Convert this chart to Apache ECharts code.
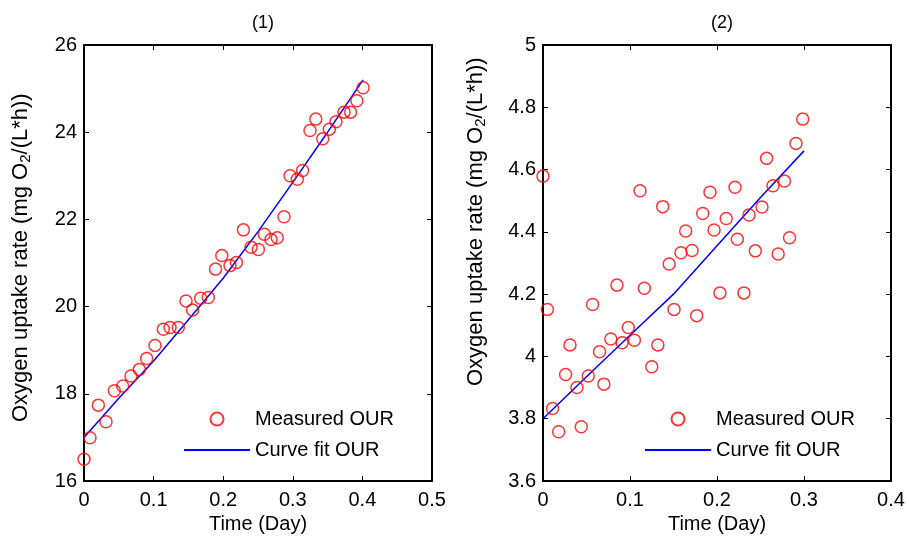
<!DOCTYPE html>
<html><head><meta charset="utf-8">
<script src="https://cdn.jsdelivr.net/npm/echarts@6/dist/echarts.min.js"></script>
<style>html,body{margin:0;padding:0;background:#fff}#c{width:909px;height:541px}</style>
</head><body><div id="c"></div>
<script>
// Panel (1)
const leftX = [0,0.0086,0.0206,0.0316,0.0436,0.0556,0.0675,0.0795,0.090,0.102,0.114,0.1236,0.1355,0.1466,0.156,0.1676,0.1786,0.189,0.198,0.2098,0.219,0.229,0.240,0.2505,0.259,0.2687,0.2777,0.2874,0.296,0.3065,0.314,0.3247,0.333,0.343,0.3525,0.362,0.3736,0.383,0.392,0.401];
const leftY = [16.50,16.99,17.74,17.36,18.07,18.18,18.41,18.56,18.81,19.11,19.48,19.52,19.52,20.13,19.92,20.19,20.21,20.86,21.17,20.94,21.01,21.76,21.36,21.31,21.66,21.54,21.58,22.06,23.00,22.92,23.12,24.04,24.30,23.85,24.07,24.24,24.46,24.46,24.72,25.02];
const fitX1 = [0,0.05,0.1,0.15,0.2,0.25,0.3,0.35,0.401];
const fitY1 = [17.0,17.9,18.75,19.7,20.65,21.72,22.85,24.0,25.2];
// Panel (2)
const rightX = [0,0.005,0.011,0.018,0.026,0.031,0.039,0.044,0.052,0.057,0.065,0.070,0.078,0.085,0.091,0.098,0.105,0.1115,0.1165,0.125,0.132,0.1376,0.145,0.1506,0.1586,0.164,0.1713,0.1767,0.1836,0.192,0.1966,0.2034,0.2106,0.2207,0.2233,0.231,0.2368,0.244,0.2517,0.257,0.2644,0.2703,0.2776,0.2834,0.2908,0.2985];
const rightY = [4.579,4.151,3.833,3.758,3.942,4.037,3.900,3.774,3.937,4.167,4.015,3.911,4.056,4.229,4.044,4.093,4.052,4.532,4.219,3.967,4.037,4.481,4.297,4.151,4.333,4.403,4.340,4.131,4.459,4.527,4.406,4.204,4.443,4.543,4.376,4.204,4.454,4.339,4.480,4.636,4.548,4.329,4.563,4.381,4.684,4.762];
const fitX2 = [0,0.05,0.1,0.15,0.2,0.25,0.3];
const fitY2 = [3.80,3.935,4.068,4.20,4.355,4.51,4.66];

const titles = ['(1)','(2)'];
const xLabel = 'Time (Day)';
const yLabel = 'Oxygen uptake rate (mg O{sub|2}/(L*h))';
const legendNames = ['Measured OUR','Curve fit OUR'];

const FONT = 'Liberation Sans, Arial, sans-serif';
const FS = 20;
const zip = (a,b)=>a.map((v,i)=>[v,b[i]]);

function axisCommon(extra){
  return Object.assign({
    type:'value', splitLine:{show:false},
    axisLine:{show:true, onZero:false, lineStyle:{color:'#000', width:2}},
    axisTick:{show:true, inside:true, length:5, lineStyle:{color:'#000', width:1}},
    axisLabel:{color:'#000', fontSize:FS, fontFamily:FONT},
    nameTextStyle:{color:'#000', fontSize:FS, fontFamily:FONT}
  }, extra);
}
const grids = [{left:84, top:45, width:348, height:436},{left:543, top:45, width:348, height:436}];
const xr = [{min:0,max:0.5,interval:0.1},{min:0,max:0.4,interval:0.1}];
const yr = [{min:16,max:26,interval:2},{min:3.6,max:5,interval:0.2}];
const xAxis=[], yAxis=[];
for(let g=0; g<2; g++){
  xAxis.push(axisCommon(Object.assign({gridIndex:g, position:'bottom', name:xLabel, nameLocation:'middle', nameGap:33,
    axisLabel:{color:'#000', fontSize:FS, fontFamily:FONT, margin:9}}, xr[g])));
  xAxis.push(axisCommon(Object.assign({gridIndex:g, position:'top', axisLabel:{show:false}}, xr[g])));
  yAxis.push(axisCommon(Object.assign({gridIndex:g, position:'left',
    axisLabel:{color:'#000', fontSize:FS, fontFamily:FONT, margin:7}}, yr[g])));
  yAxis.push(axisCommon(Object.assign({gridIndex:g, position:'right', axisLabel:{show:false}}, yr[g])));
}
const scat = (g, d)=>({type:'scatter', name:legendNames[0], xAxisIndex:2*g, yAxisIndex:2*g, data:d, symbol:'circle', symbolSize:12,
  itemStyle:{color:'rgba(255,255,255,0)', borderColor:'#ff0000', borderWidth:1.5}, z:3});
const line = (g, d)=>({type:'line', name:legendNames[1], xAxisIndex:2*g, yAxisIndex:2*g, data:d, showSymbol:false, symbol:'none',
  lineStyle:{color:'#0000ff', width:1.5}, itemStyle:{color:'#0000ff'}, z:2});

const legendBase = {top:409, orient:'vertical', itemWidth:66, itemHeight:13, itemGap:11, padding:0,
  data:[{name:legendNames[0]}, {name:legendNames[1], itemStyle:{color:'rgba(0,0,0,0)', borderWidth:0, opacity:0}}],
  textStyle:{fontSize:FS, color:'#000', fontFamily:FONT}};

const yLabelText = (x, y)=>({type:'text', x, y, rotation:Math.PI/2,
  style:{text:yLabel, fill:'#000', font:'22px '+FONT, align:'left', verticalAlign:'middle',
    rich:{sub:{fontSize:15, fontFamily:FONT, fill:'#000', padding:[10,0,0,0]}}}});

const option = {
  animation:false,
  title: titles.map((t,i)=>({text:t, left: i===0?258:717, top:9, textAlign:'center', textStyle:{fontSize:18, fontWeight:'normal', color:'#000', fontFamily:FONT}})),
  grid: grids,
  xAxis, yAxis,
  legend: [Object.assign({left:183}, legendBase), Object.assign({left:644}, legendBase)],
  graphic: [yLabelText(21, 422), yLabelText(476, 386)],
  series:[scat(0, zip(leftX,leftY)), line(0, zip(fitX1,fitY1)), scat(1, zip(rightX,rightY)), line(1, zip(fitX2,fitY2))]
};
const chart = echarts.init(document.getElementById('c'), null, {renderer:'canvas'});
chart.setOption(option);
</script></body></html>
